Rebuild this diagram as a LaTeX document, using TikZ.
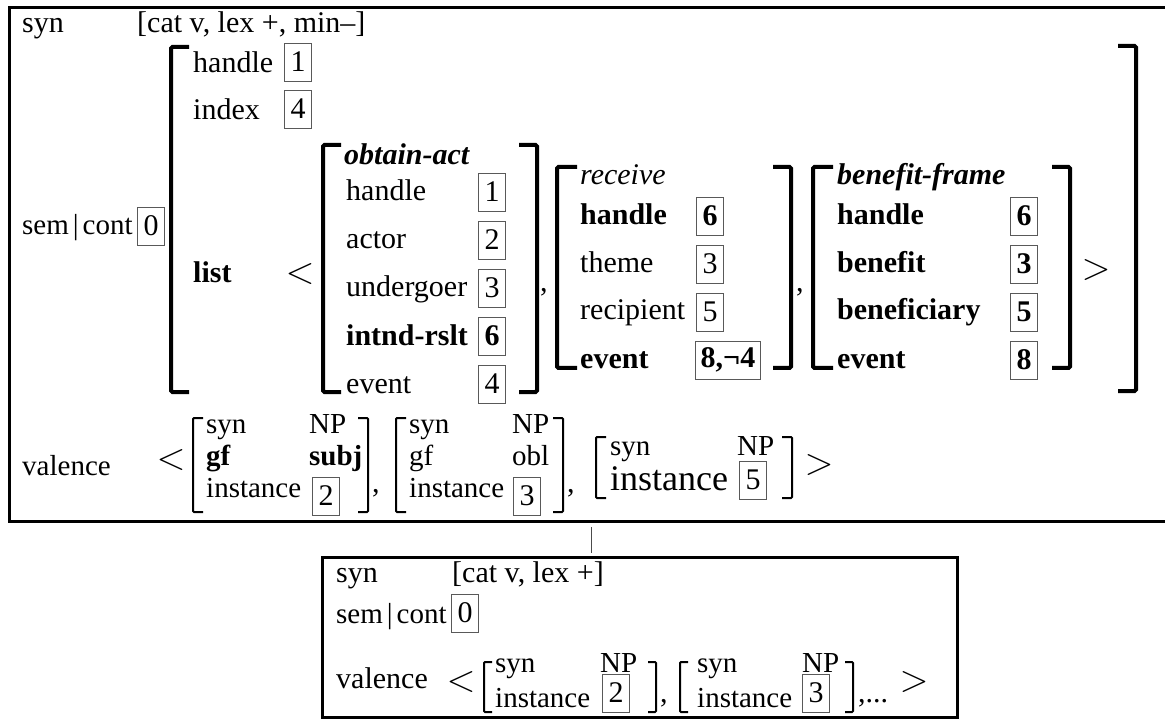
\RequirePackage{fix-cm}
\documentclass[tikz,border=0pt]{standalone}
\usepackage{fontspec}
\setmainfont{Liberation Serif}

\begin{document}
\begin{tikzpicture}[x=1pt, y=-1pt,
  font=\fontsize{30}{34}\selectfont,
  lbl/.style={anchor=base west, inner sep=0pt},
  small/.style={font=\fontsize{29}{34}\selectfont},
  chev/.style={font=\fontsize{38}{42}\selectfont, inner sep=0pt},
  tag/.style={draw=black!65, line width=0.8pt, minimum width=27pt, minimum height=38pt, inner sep=1pt},
  brk/.style={line width=4pt, rounded corners=1.5pt},
  sbrk/.style={line width=2pt, rounded corners=1pt},
  frame/.style={line width=3pt}]

  \useasboundingbox (0,0) rectangle (1165,719);

  % upper entry
  \draw[frame] (1165,8) -- (9,8) -- (9,521) -- (1165,521);

  \node[lbl] (syn) at (22,33) {syn};
  \node[lbl] (synval) at (137,33) {[cat v, lex +, min--]};
  \node[lbl, small] (semcont) at (22,235) {sem\kern4pt|\kern4pt cont};
  \node[tag] (t0) at (151,226) {0};

  % sem|cont value
  \draw[brk] (189,47) -- (171,47) -- (171,392) -- (189,392);
  \draw[brk] (1118,46) -- (1136,46) -- (1136,391) -- (1118,391);
  \node[lbl] (hdl) at (193,73) {handle};
  \node[tag] (t1) at (298,62) {1};
  \node[lbl] (idx) at (193,120) {index};
  \node[tag] (t4) at (298,109) {4};
  \node[lbl] (lst) at (193,283) {\bfseries list};
  \node[chev] (lt1) at (300,274) {$<$};

  % obtain-act
  \draw[brk] (341,145) -- (323,145) -- (323,392) -- (341,392);
  \node[lbl] (oa) at (344,165) {\bfseries\itshape obtain-act};
  \node[lbl] (oa1) at (346,201) {handle};
  \node[tag] (oa1t) at (492,192) {1};
  \node[lbl] (oa2) at (346,249) {actor};
  \node[tag] (oa2t) at (492,240) {2};
  \node[lbl] (oa3) at (346,297) {undergoer};
  \node[tag] (oa3t) at (492,288) {3};
  \node[lbl] (oa4) at (346,345) {\bfseries intnd-rslt};
  \node[tag] (oa4t) at (492,336) {\bfseries 6};
  \node[lbl] (oa5) at (346,393) {event};
  \node[tag] (oa5t) at (492,384) {4};
  \draw[brk] (519,145) -- (537,145) -- (537,392) -- (519,392);
  \node[lbl] (cm1) at (540,292) {,};

  % receive
  \draw[brk] (577,167) -- (557,167) -- (557,368) -- (577,368);
  \node[lbl] (rc) at (580,185) {\itshape receive};
  \node[lbl] (rc1) at (580,225) {\bfseries handle};
  \node[tag] (rc1t) at (710,216) {\bfseries 6};
  \node[lbl] (rc2) at (580,273) {theme};
  \node[tag] (rc2t) at (710,264) {3};
  \node[lbl] (rc3) at (580,320) {recipient};
  \node[tag] (rc3t) at (710,312) {5};
  \node[lbl] (rc4) at (580,368) {\bfseries event};
  \node[tag, minimum width=65pt] (rc4t) at (728,360) {\bfseries 8,¬4};
  \draw[brk] (773,167) -- (791,167) -- (791,368) -- (773,368);
  \node[lbl] (cm2) at (796,292) {,};

  % benefit-frame
  \draw[brk] (833,167) -- (813,167) -- (813,368) -- (833,368);
  \node[lbl] (bf) at (837,185) {\bfseries\itshape benefit-frame};
  \node[lbl] (bf1) at (837,225) {\bfseries handle};
  \node[tag] (bf1t) at (1024,216) {\bfseries 6};
  \node[lbl] (bf2) at (837,273) {\bfseries benefit};
  \node[tag] (bf2t) at (1024,264) {\bfseries 3};
  \node[lbl] (bf3) at (837,320) {\bfseries beneficiary};
  \node[tag] (bf3t) at (1024,312) {\bfseries 5};
  \node[lbl] (bf4) at (837,368) {\bfseries event};
  \node[tag] (bf4t) at (1024,360) {\bfseries 8};
  \draw[brk] (1052,167) -- (1070,167) -- (1070,368) -- (1052,368);
  \node[chev] (gt1) at (1096,270) {$>$};

  % valence
  \node[lbl, small] (val) at (22,475) {valence};
  \node[chev] (lt2) at (171,460) {$<$};
  \draw[sbrk] (203,418) -- (193,418) -- (193,512) -- (203,512);
  \node[lbl, small] (v1a) at (206,433) {syn};
  \node[lbl, small] (v1b) at (309,433) {NP};
  \node[lbl, small] (v1c) at (206,465) {\bfseries gf};
  \node[lbl, small] (v1d) at (309,465) {\bfseries subj};
  \node[lbl, small] (v1e) at (206,497) {instance};
  \node[tag] (v1t) at (326,496) {2};
  \draw[sbrk] (358,418) -- (368,418) -- (368,512) -- (358,512);
  \node[lbl] (cm3) at (372,492) {,};

  \draw[sbrk] (406,418) -- (396,418) -- (396,512) -- (406,512);
  \node[lbl, small] (v2a) at (409,433) {syn};
  \node[lbl, small] (v2b) at (512,433) {NP};
  \node[lbl, small] (v2c) at (409,465) {gf};
  \node[lbl, small] (v2d) at (512,465) {obl};
  \node[lbl, small] (v2e) at (409,497) {instance};
  \node[tag] (v2t) at (527,496) {3};
  \draw[sbrk] (553,418) -- (563,418) -- (563,512) -- (553,512);
  \node[lbl] (cm4) at (567,492) {,};

  \draw[sbrk] (606,437) -- (596,437) -- (596,498) -- (606,498);
  \node[lbl, small] (v3a) at (610,455) {syn};
  \node[lbl, small] (v3b) at (737,455) {NP};
  \node[lbl] (v3e) at (610,490) {\fontsize{36}{40}\selectfont instance};
  \node[tag] (v3t) at (753,480) {5};
  \draw[sbrk] (782,437) -- (792,437) -- (792,498) -- (782,498);
  \node[chev] (gt2) at (819,465) {$>$};

  % link to lower entry
  \coordinate (upfoot) at (591,527);
  \coordinate (lowhead) at (591,553);
  \draw[line width=0.8pt, black!70] (upfoot) -- (lowhead);

  % lower entry
  \draw[frame] (322,557) rectangle (957,717);
  \node[lbl] (lsyn) at (336,582) {syn};
  \node[lbl] (lsynval) at (452,582) {[cat v, lex +]};
  \node[lbl, small] (lsem) at (336,623) {sem\kern4pt|\kern4pt cont};
  \node[tag] (lt0) at (465,613) {0};
  \node[lbl] (lval) at (336,688) {valence};
  \node[chev] (llt) at (461,682) {$<$};

  \draw[sbrk] (492,662) -- (484,662) -- (484,712) -- (492,712);
  \node[lbl, small] (l1a) at (495,672) {syn};
  \node[lbl, small] (l1b) at (600,672) {NP};
  \node[lbl, small] (l1e) at (495,707) {instance};
  \node[tag] (l1t) at (616,693) {2};
  \draw[sbrk] (648,662) -- (656,662) -- (656,712) -- (648,712);
  \node[lbl] (cm5) at (660,702) {,};

  \draw[sbrk] (688,662) -- (680,662) -- (680,712) -- (688,712);
  \node[lbl, small] (l2a) at (697,672) {syn};
  \node[lbl, small] (l2b) at (802,672) {NP};
  \node[lbl, small] (l2e) at (697,707) {instance};
  \node[tag] (l2t) at (816,693) {3};
  \draw[sbrk] (845,662) -- (853,662) -- (853,712) -- (845,712);
  \node[lbl] (cm6) at (858,702) {,...};
  \node[chev] (gt3) at (914,682) {$>$};

\end{tikzpicture}
\end{document}
